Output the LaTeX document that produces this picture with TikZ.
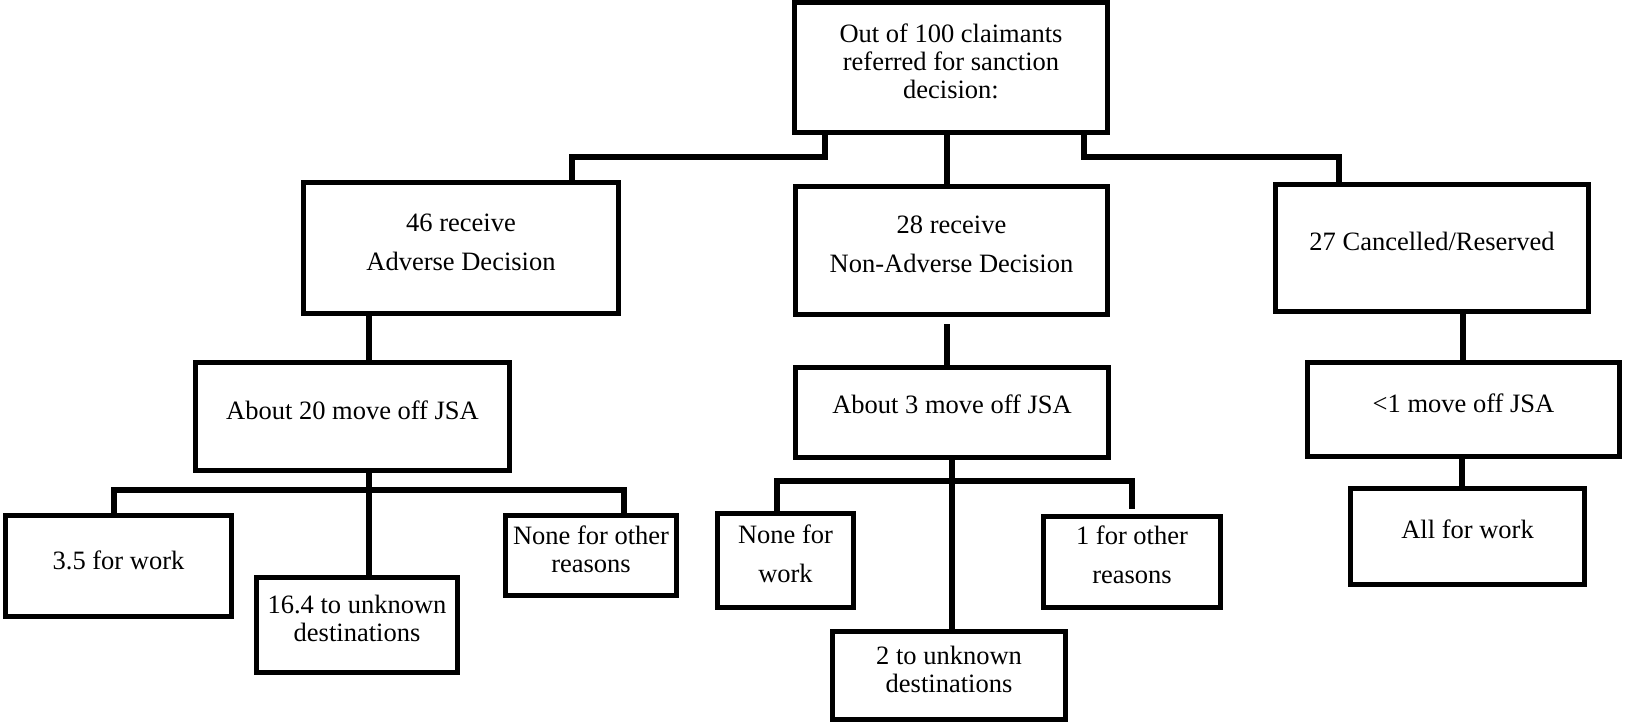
\documentclass[tikz,border=0pt]{standalone}
\usepackage{fontspec}
\setmainfont{Liberation Serif}
\usetikzlibrary{calc}
\begin{document}
\begin{tikzpicture}[x=1pt,y=-1pt,
  box/.style={draw, line width=5.5pt, inner sep=0pt},
  conn/.style={draw, line width=5.5pt},
  txt/.style={anchor=base, align=center, inner sep=0pt, font=\fontsize{26.5}{28}\selectfont},
  wide/.style={font=\fontsize{26.5}{39.5}\selectfont}]
\useasboundingbox (0,0) rectangle (1625,724);
% boxes
\node[box, minimum width=313pt, minimum height=130pt] (top) at (951,67.5) {};
\node[box, minimum width=315pt, minimum height=131pt] (adv) at (461,248) {};
\node[box, minimum width=312pt, minimum height=128pt] (nonadv) at (951.5,250.5) {};
\node[box, minimum width=313pt, minimum height=127pt] (canc) at (1432,248) {};
\node[box, minimum width=314pt, minimum height=108pt] (ab20) at (352.5,416.5) {};
\node[box, minimum width=313pt, minimum height=90pt] (ab3) at (952,412.5) {};
\node[box, minimum width=312pt, minimum height=94pt] (lt1) at (1463.5,409.5) {};
\node[box, minimum width=226pt, minimum height=101pt] (w35) at (118.5,566) {};
\node[box, minimum width=201pt, minimum height=95pt] (u164) at (357,625) {};
\node[box, minimum width=171pt, minimum height=80pt] (nother) at (591,555.5) {};
\node[box, minimum width=136pt, minimum height=94pt] (nwork) at (785.5,560.5) {};
\node[box, minimum width=177pt, minimum height=91pt] (oth1) at (1132,562) {};
\node[box, minimum width=233pt, minimum height=88pt] (u2) at (949,675.5) {};
\node[box, minimum width=234pt, minimum height=96pt] (allw) at (1467.5,536.5) {};
% texts (anchor = baseline of the last line)
\node[txt] (top-t) at (951,98.5) {Out of 100 claimants\\referred for sanction\\decision:};
\node[txt,wide] (adv-t) at (461,270.5) {46 receive\\Adverse Decision};
\node[txt,wide] (nonadv-t) at (951.5,272.7) {28 receive\\Non-Adverse Decision};
\node[txt] (canc-t) at (1432,250.7) {27 Cancelled/Reserved};
\node[txt] (ab20-t) at (352.5,419.3) {About 20 move off JSA};
\node[txt] (ab3-t) at (952,413.7) {About 3 move off JSA};
\node[txt] (lt1-t) at (1463.5,412) {<1 move off JSA};
\node[txt] (w35-t) at (118.5,569.3) {3.5 for work};
\node[txt] (u164-t) at (357,641.3) {16.4 to unknown\\destinations};
\node[txt] (nother-t) at (591,572) {None for other\\reasons};
\node[txt,wide] (nwork-t) at (785.5,582.5) {None for\\work};
\node[txt,wide] (oth1-t) at (1132,583.7) {1 for other\\reasons};
\node[txt] (u2-t) at (949,692) {2 to unknown\\destinations};
\node[txt] (allw-t) at (1467.5,538) {All for work};
% connectors
\draw[conn] (top.south -| 825,0) |- (572,157) -- (adv.north -| 572,0);
\draw[conn] (top.south -| 947,0) -- (nonadv.north -| 947,0);
\draw[conn] (top.south -| 1084,0) |- (1339,157) -- (canc.north -| 1339,0);
\draw[conn] (adv.south -| 369,0) -- (ab20.north -| 369,0);
\draw[conn] (ab20.south -| 369,0) -- (u164.north -| 369,0);
\draw[conn] (w35.north -| 114,0) |- (624,490) -- (nother.north -| 624,0);
\draw[conn] ($(nonadv.south -| 947,0)+(0,7)$) -- (ab3.north -| 947,0);
\draw[conn] (ab3.south -| 952,0) -- (u2.north -| 952,0);
\draw[conn] (nwork.north -| 777,0) |- (1132,481) -- ($(oth1.north -| 1132,0)+(0,-5)$);
\draw[conn] (canc.south -| 1463,0) -- (lt1.north -| 1463,0);
\draw[conn] (lt1.south -| 1462,0) -- (allw.north -| 1462,0);
\end{tikzpicture}
\end{document}
